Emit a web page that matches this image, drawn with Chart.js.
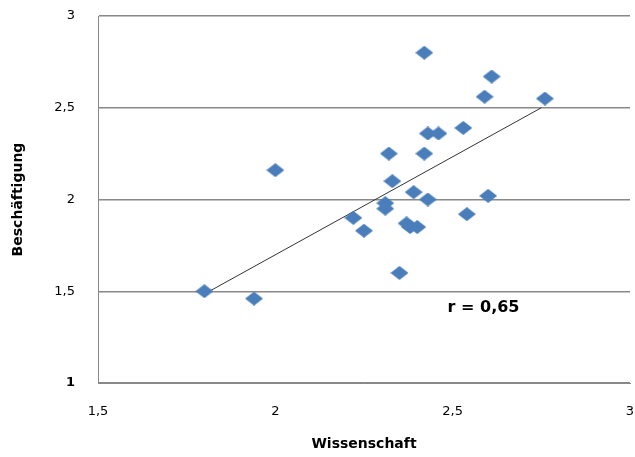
<!DOCTYPE html>
<html>
<head>
<meta charset="utf-8">
<script src="https://cdn.jsdelivr.net/npm/chart.js@4.4.0/dist/chart.umd.min.js"></script>
<style>
  html, body { margin: 0; padding: 0; background: #fff; }
  #wrap { width: 635px; height: 457px; }
</style>
</head>
<body>
<div id="wrap"><canvas id="scatterChart" width="635" height="457"></canvas></div>
<script>
// Data
const wissenschaft = [1.80, 1.94, 2.00, 2.22, 2.25, 2.31, 2.31, 2.32, 2.33, 2.35, 2.37, 2.38, 2.40,
                      2.39, 2.42, 2.42, 2.43, 2.43, 2.46, 2.53, 2.54, 2.59, 2.60, 2.61, 2.76];
const beschaeftigung = [1.50, 1.46, 2.16, 1.90, 1.83, 1.98, 1.95, 2.25, 2.10, 1.60, 1.87, 1.85, 1.85,
                        2.04, 2.80, 2.25, 2.00, 2.36, 2.36, 2.39, 1.92, 2.56, 2.02, 2.67, 2.55];

// Trend line endpoints
const trendX = [1.80, 2.75];
const trendY = [1.485, 2.50];

const xTicks = [1.5, 2, 2.5, 3];
const yTicks = [1, 1.5, 2, 2.5, 3];

const rLabel = 'r = 0,65';
const rPos = [2.587, 1.41];

// Format with German decimal comma
function formatComma(value) {
    return value.toString().replace('.', ',');
}

// Diamond marker
function makeDiamond() {
    const c = document.createElement('canvas');
    c.width = 18;
    c.height = 14;
    const g = c.getContext('2d');
    g.fillStyle = '#4a7ebb';
    g.beginPath();
    g.moveTo(9, 0);
    g.lineTo(18, 7);
    g.lineTo(9, 14);
    g.lineTo(0, 7);
    g.closePath();
    g.fill();
    return c;
}

const points = wissenschaft.map((x, i) => ({ x: x, y: beschaeftigung[i] }));
const trend = trendX.map((x, i) => ({ x: x, y: trendY[i] }));

// Draw the r annotation
const rTextPlugin = {
    id: 'rText',
    afterDatasetsDraw(chart) {
        const ctx = chart.ctx;
        const px = chart.scales.x.getPixelForValue(rPos[0]);
        const py = chart.scales.y.getPixelForValue(rPos[1]);
        ctx.save();
        ctx.font = 'bold 16px "DejaVu Sans"';
        ctx.fillStyle = '#000';
        ctx.textAlign = 'center';
        ctx.textBaseline = 'middle';
        ctx.fillText(rLabel, px, py);
        ctx.restore();
    }
};

const ctx = document.getElementById('scatterChart').getContext('2d');
new Chart(ctx, {
    type: 'scatter',
    data: {
        datasets: [
            {
                label: 'Daten',
                data: points,
                pointStyle: makeDiamond(),
                pointRadius: 7,
                pointHoverRadius: 7
            },
            {
                type: 'line',
                label: 'Trend',
                data: trend,
                borderColor: '#333',
                borderWidth: 1,
                pointRadius: 0,
                fill: false
            }
        ]
    },
    options: {
        responsive: false,
        animation: false,
        layout: { autoPadding: false, padding: { left: 0, right: 5, top: 16, bottom: 0 } },
        plugins: {
            legend: { display: false },
            tooltip: { enabled: false }
        },
        scales: {
            x: {
                type: 'linear',
                min: 1.5,
                max: 3,
                afterBuildTicks: function(scale) {
                    scale.ticks = xTicks.map(v => ({ value: v }));
                },
                afterFit: function(scale) {
                    scale.height = 74;
                    scale.paddingLeft = 0;
                    scale.paddingRight = 0;
                },
                grid: { display: false, drawTicks: false },
                border: { display: true, color: '#888', width: 1 },
                ticks: {
                    padding: 21,
                    color: '#000',
                    font: { family: '"DejaVu Sans"', size: 13 },
                    callback: function(value) { return formatComma(value); }
                },
                title: {
                    display: true,
                    text: 'Wissenschaft',
                    color: '#000',
                    font: { family: '"DejaVu Sans"', size: 14, weight: 'bold' },
                    padding: { top: 0, bottom: 4 }
                }
            },
            y: {
                type: 'linear',
                min: 1,
                max: 3,
                afterBuildTicks: function(scale) {
                    scale.ticks = yTicks.map(v => ({ value: v }));
                },
                afterFit: function(scale) {
                    scale.width = 98;
                    scale.paddingTop = 0;
                    scale.paddingBottom = 0;
                },
                grid: { color: '#888', lineWidth: 1.5, drawTicks: false },
                border: { display: true, color: '#888', width: 1 },
                ticks: {
                    padding: 23,
                    color: '#000',
                    font: function(c) {
                        return { family: '"DejaVu Sans"', size: 13, weight: c.tick && c.tick.value === 1 ? 'bold' : 'normal' };
                    },
                    callback: function(value) { return formatComma(value); }
                },
                title: {
                    display: true,
                    text: 'Beschäftigung',
                    color: '#000',
                    font: { family: '"DejaVu Sans"', size: 14, weight: 'bold' },
                    padding: { top: 10, bottom: 0 }
                }
            }
        }
    },
    plugins: [rTextPlugin]
});
</script>
</body>
</html>
